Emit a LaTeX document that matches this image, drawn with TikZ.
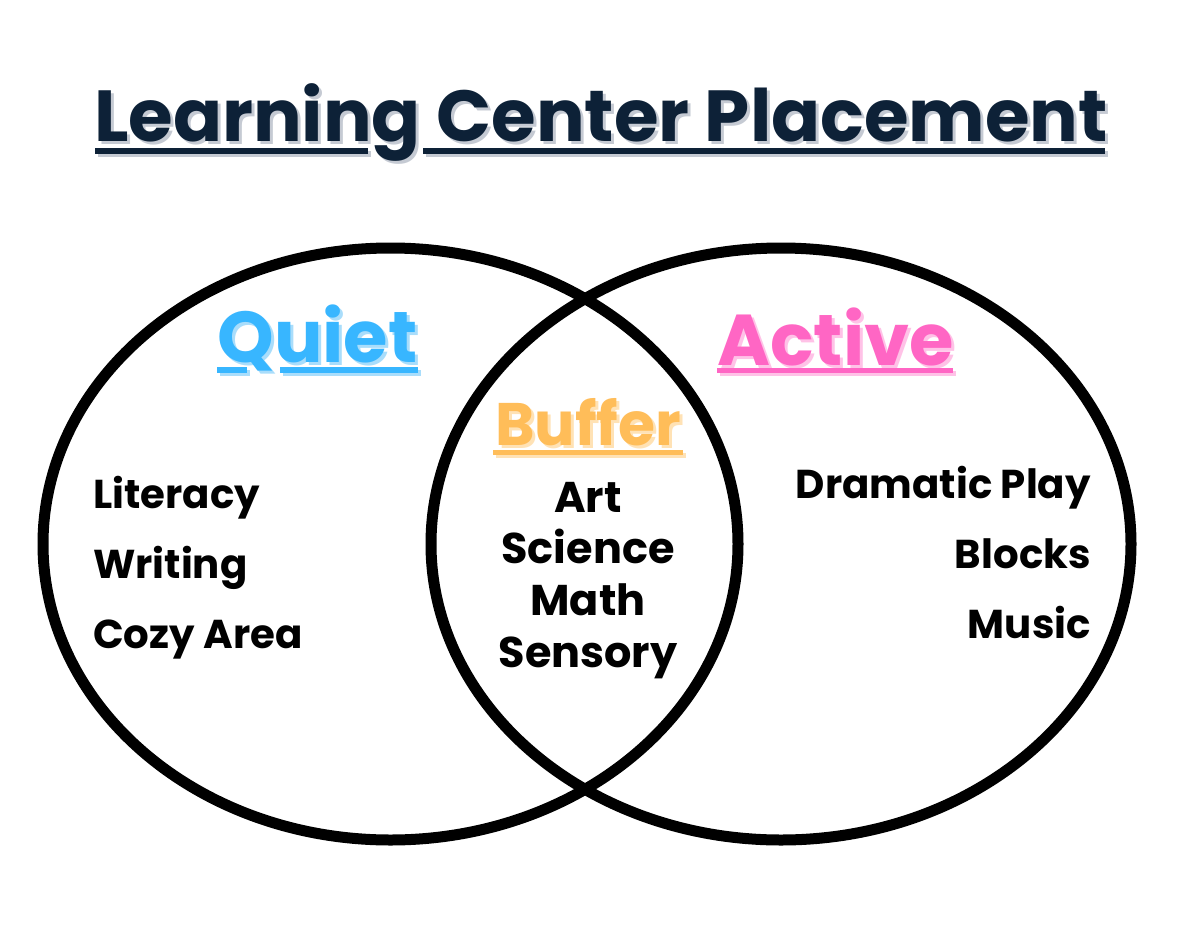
\documentclass[tikz,border=0pt]{standalone}
\usepackage{fontspec}
\newfontfamily\pop{Poppins}
\definecolor{navy}{HTML}{0D2137}
\definecolor{navyS}{HTML}{C5CAD3}
\definecolor{qblue}{HTML}{38B6FF}
\definecolor{qblueS}{HTML}{A9DDFB}
\definecolor{apink}{HTML}{FF66C4}
\definecolor{apinkS}{HTML}{FFC2E7}
\definecolor{borange}{HTML}{FFBD59}
\definecolor{borangeS}{HTML}{FFE2B5}
\tikzset{
  txt/.style={inner sep=0pt, font=\pop\bfseries\fontsize{40.3}{40.3}\selectfont, text=black},
  ctxt/.style={inner sep=0pt, font=\pop\bfseries\fontsize{43}{43}\selectfont, text=black},
  ring/.style={draw=black, line width=11pt},
  ttl/.style={inner sep=0pt, font=\pop\bfseries\fontsize{72.3}{72.3}\selectfont},
  hdr/.style={inner sep=0pt, font=\pop\bfseries\fontsize{72}{72}\selectfont},
  buf/.style={inner sep=0pt, font=\pop\bfseries\fontsize{60}{60}\selectfont},
}
\begin{document}
\begin{tikzpicture}[x=1pt,y=-1pt]
\useasboundingbox[fill=white] (0,0) rectangle (1200,927);
% circles
\draw[ring] (390.5,544) ellipse [x radius=347.5, y radius=296];
\draw[ring] (781,544) ellipse [x radius=350, y radius=296];
% title
\fill[navyS] (98,151) rectangle (371,157);
\fill[navyS] (426,151) rectangle (1108,157);
\node[ttl, text=navyS, anchor=base] (titleS) at (604,144) {Learning Center Placement};
\fill[navy] (95,148) rectangle (368,154);
\fill[navy] (423,148) rectangle (1105,154);
\node[ttl, text=navy, anchor=base] (title) at (601,141) {Learning Center Placement};
% Quiet
\fill[qblueS] (220,370) rectangle (250,376);
\fill[qblueS] (283,370) rectangle (421,376);
\node[hdr, text=qblueS, anchor=base] (quietS) at (320.5,365) {Quiet};
\fill[qblue] (217,367) rectangle (247,373);
\fill[qblue] (280,367) rectangle (418,373);
\node[hdr, text=qblue, anchor=base] (quiet) at (317.5,362) {Quiet};
% Active
\fill[apinkS] (720,371) rectangle (956,376);
\node[hdr, text=apinkS, anchor=base] (activeS) at (838.5,368) {Active};
\fill[apink] (717,368) rectangle (953,373);
\node[hdr, text=apink, anchor=base] (active) at (835.5,365) {Active};
% Buffer
\fill[borangeS] (496,453) rectangle (686,458);
\node[buf, text=borangeS, anchor=base] (bufferS) at (591,448) {Buffer};
\fill[borange] (493,450) rectangle (683,455);
\node[buf, text=borange, anchor=base] (buffer) at (588,445) {Buffer};
% left list
\node[txt, anchor=base west] (lit) at (93,508) {Literacy};
\node[txt, anchor=base west] (wri) at (93,578) {Writing};
\node[txt, anchor=base west] (coz) at (93,648) {Cozy Area};
% centre list
\node[ctxt, anchor=base] (art) at (588,512) {Art};
\node[ctxt, anchor=base] (sci) at (588,563) {Science};
\node[ctxt, anchor=base] (mat) at (588,615) {Math};
\node[ctxt, anchor=base] (sen) at (588,667) {Sensory};
% right list
\node[txt, anchor=base east] (dra) at (1091,498) {Dramatic Play};
\node[txt, anchor=base east] (blo) at (1091,568) {Blocks};
\node[txt, anchor=base east] (mus) at (1091,638) {Music};
\end{tikzpicture}
\end{document}
